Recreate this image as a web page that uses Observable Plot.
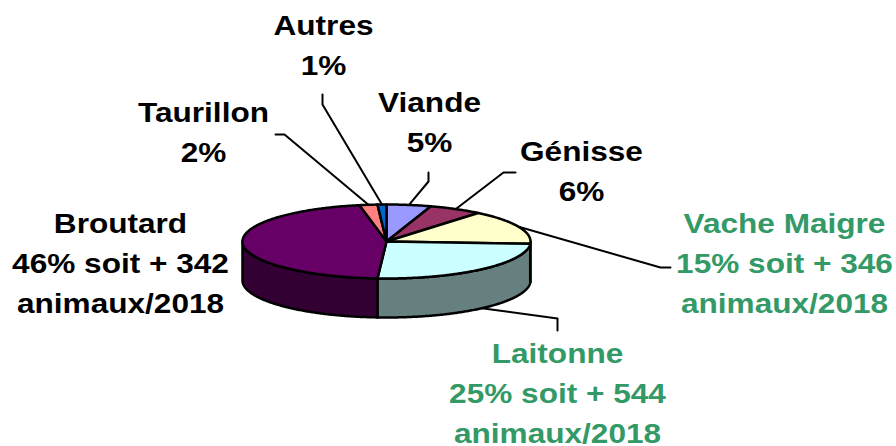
<!DOCTYPE html>
<html><head><meta charset="utf-8">
<script src="https://cdn.jsdelivr.net/npm/d3@7"></script>
<script src="https://cdn.jsdelivr.net/npm/@observablehq/plot@0.6"></script>
<style>body{margin:0;background:#fff}</style>
</head><body><div id="chart"></div>
<script>
// ---- data ----
const categories = ["Viande", "Génisse", "Vache Maigre", "Laitonne", "Broutard", "Taurillon", "Autres"];
const shares = [5, 6, 15, 25, 46, 2, 1];
const gains = [null, null, 346, 544, 342, null, null];
const gainUnit = "animaux/2018";

// ---- styles ----
const topColors = {"Viande": "#9999ff", "Génisse": "#993366", "Vache Maigre": "#ffffcc", "Laitonne": "#ccffff", "Broutard": "#660066", "Taurillon": "#ff8080", "Autres": "#0066cc"};
const sideColors = {"Viande": "#4d4d80", "Génisse": "#4d1a33", "Vache Maigre": "#808066", "Laitonne": "#668080", "Broutard": "#330033", "Taurillon": "#804040", "Autres": "#003366"};
const greenLabels = new Set(["Vache Maigre", "Laitonne"]);
const FS = 27, LINE = 40, SX = 1.17, YFIX = 11;

// ---- layout ----
const W = 896, H = 446;
const P = {cx: 386, cy: 241, rx: 144, ry: 37, depth: 39};
const labelPos = {"Autres": [323, 36], "Viande": [429, 113], "Génisse": [581, 162], "Taurillon": [203, 123], "Broutard": [120, 234], "Vache Maigre": [784, 234], "Laitonne": [557, 364]};
const elbows = {
  "Autres": [[322, 104], [322, 94]],
  "Taurillon": [[284, 134], [275, 134]],
  "Viande": [[428, 181], [428, 172]],
  "Génisse": [[503, 172], [515, 172]],
  "Vache Maigre": [[660, 267], [670, 267]],
  "Laitonne": [[557, 318], [557, 330]]
};

// ---- geometry from data ----
const arcs = d3.pie().sort(null).value(d => d)(shares);
const pt = (t, dz = 0) => ({x: P.cx + P.rx * Math.sin(t), y: P.cy - P.ry * Math.cos(t) + dz});
function arcPts(a0, a1, dz = 0) {
  const n = Math.max(2, Math.ceil((a1 - a0) / 0.01));
  return d3.range(n + 1).map(i => pt(a0 + (a1 - a0) * i / n, dz));
}
const marks = [];
const sw = {stroke: "black", strokeWidth: 2.5, strokeLinejoin: "round", curve: "linear-closed"};
// side walls (front half only)
arcs.forEach((a, i) => {
  const s = Math.max(a.startAngle, Math.PI / 2), e = Math.min(a.endAngle, 3 * Math.PI / 2);
  if (e > s) {
    const poly = [...arcPts(s, e), ...arcPts(s, e, P.depth).reverse()];
    marks.push(Plot.line(poly, {x: "x", y: "y", fill: sideColors[categories[i]], ...sw}));
  }
});
// top faces
arcs.forEach((a, i) => {
  const poly = [{x: P.cx, y: P.cy}, ...arcPts(a.startAngle, a.endAngle)];
  marks.push(Plot.line(poly, {x: "x", y: "y", fill: topColors[categories[i]], ...sw}));
});
// leader lines
arcs.forEach((a, i) => {
  const c = categories[i];
  if (!elbows[c]) return;
  const m = (a.startAngle + a.endAngle) / 2;
  const front = m > Math.PI / 2 && m < 3 * Math.PI / 2;
  const start = pt(m, front ? P.depth : 0);
  const pts = [start, ...elbows[c].map(([x, y]) => ({x, y}))];
  marks.push(Plot.line(pts, {x: "x", y: "y", stroke: "black", strokeWidth: 2}));
});
// labels
const labels = categories.map((c, i) => ({
  name: c,
  text: `${c}\n${shares[i]}%` + (gains[i] != null ? ` soit + ${gains[i]}\n${gainUnit}` : ""),
  x: labelPos[c][0],
  y: labelPos[c][1] - 0.71 * FS - YFIX
}));
const textOpts = {x: "x", y: "y", text: "text", fontSize: FS, fontWeight: "bold", fontFamily: "'Liberation Sans', Arial, sans-serif", lineHeight: LINE / FS, lineAnchor: "top", textAnchor: "middle"};
marks.push(Plot.text(labels.filter(d => !greenLabels.has(d.name)), {...textOpts, fill: "black"}));
marks.push(Plot.text(labels.filter(d => greenLabels.has(d.name)), {...textOpts, fill: "#339966"}));

const chart = Plot.plot({
  width: W, height: H, margin: 0,
  x: {domain: [0, W], range: [0, W], axis: null},
  y: {domain: [0, H], range: [0, H], axis: null},
  style: {background: "white", overflow: "visible"},
  marks
});
d3.select(chart).selectAll("text").each(function () {
  const el = this;
  if (el.hasAttribute("x") || el.hasAttribute("y")) {
    const x = +el.getAttribute("x") || 0, y = +el.getAttribute("y") || 0;
    el.removeAttribute("x"); el.removeAttribute("y");
    el.setAttribute("transform", `translate(${x},${y}) scale(${SX},1)`);
  } else {
    const t = el.getAttribute("transform") || "";
    el.setAttribute("transform", `${t} scale(${SX},1)`);
  }
});
document.getElementById("chart").appendChild(chart);
</script>
</body></html>
